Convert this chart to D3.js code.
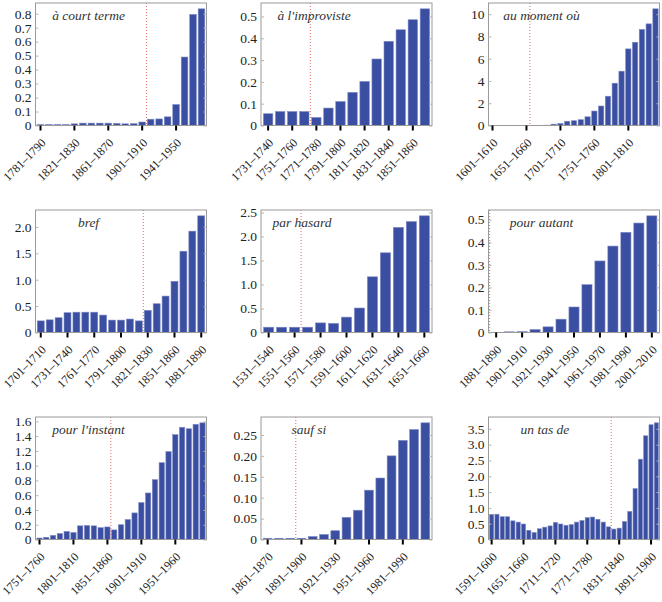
<!DOCTYPE html>
<html><head><meta charset="utf-8">
<script src="https://cdn.jsdelivr.net/npm/d3@7"></script>
<style>
html,body{margin:0;padding:0;background:#fff;}
svg{display:block;}
svg text{font-family:"Liberation Serif","Times New Roman","DejaVu Serif",serif;}
</style></head>
<body>
<svg id="chart" width="662" height="602"></svg>
<script>
// ---------- DATA ----------
const titles = ["à court terme","à l'improviste","au moment où","bref","par hasard","pour autant","pour l'instant","sauf si","un tas de"];

const cats1 = ["1781–1790","1791–1800","1801–1810","1811–1820","1821–1830","1831–1840","1841–1850","1851–1860","1861–1870","1871–1880","1881–1890","1891–1900","1901–1910","1911–1920","1921–1930","1931–1940","1941–1950","1951–1960","1961–1970","1971–1980"];
const vals1 = [0.007,0.007,0.007,0.007,0.012,0.017,0.017,0.017,0.017,0.015,0.012,0.013,0.025,0.045,0.047,0.062,0.15,0.49,0.795,0.835];
const xt1 = ["1781–1790","1821–1830","1861–1870","1901–1910","1941–1950"];
const yt1 = [0,0.1,0.2,0.3,0.4,0.5,0.6,0.7,0.8];
const yl1 = ["0","0.1","0.2","0.3","0.4","0.5","0.6","0.7","0.8"];

const cats2 = ["1731–1740","1741–1750","1751–1760","1761–1770","1771–1780","1781–1790","1791–1800","1801–1810","1811–1820","1821–1830","1831–1840","1841–1850","1851–1860","1861–1870"];
const vals2 = [0.054,0.064,0.064,0.064,0.037,0.08,0.11,0.152,0.202,0.305,0.386,0.439,0.485,0.535];
const xt2 = ["1731–1740","1751–1760","1771–1780","1791–1800","1811–1820","1831–1840","1851–1860"];
const yt2 = [0,0.1,0.2,0.3,0.4,0.5];
const yl2 = ["0","0.1","0.2","0.3","0.4","0.5"];

const cats3 = ["1601–1610","1611–1620","1621–1630","1631–1640","1641–1650","1651–1660","1661–1670","1671–1680","1681–1690","1691–1700","1701–1710","1711–1720","1721–1730","1731–1740","1741–1750","1751–1760","1761–1770","1771–1780","1781–1790","1791–1800","1801–1810","1811–1820","1821–1830","1831–1840","1841–1850"];
const vals3 = [0.01,0.01,0.01,0.01,0.01,0.01,0.01,0.01,0.03,0.12,0.18,0.38,0.43,0.52,0.78,1.3,1.75,2.63,3.8,4.88,6.88,7.48,8.63,9.13,10.48];
const xt3 = ["1601–1610","1651–1660","1701–1710","1751–1760","1801–1810"];
const yt3 = [0,2,4,6,8,10];
const yl3 = ["0","2","4","6","8","10"];

const cats4 = ["1701–1710","1711–1720","1721–1730","1731–1740","1741–1750","1751–1760","1761–1770","1771–1780","1781–1790","1791–1800","1801–1810","1811–1820","1821–1830","1831–1840","1841–1850","1851–1860","1861–1870","1871–1880","1881–1890"];
const vals4 = [0.22,0.24,0.28,0.375,0.385,0.385,0.385,0.33,0.235,0.235,0.255,0.22,0.42,0.545,0.69,0.97,1.54,1.92,2.21];
const xt4 = ["1701–1710","1731–1740","1761–1770","1791–1800","1821–1830","1851–1860","1881–1890"];
const yt4 = [0,0.5,1.0,1.5,2.0];
const yl4 = ["0","0.5","1.0","1.5","2.0"];

const cats5 = ["1531–1540","1541–1550","1551–1560","1561–1570","1571–1580","1581–1590","1591–1600","1601–1610","1611–1620","1621–1630","1631–1640","1641–1650","1651–1660"];
const vals5 = [0.11,0.11,0.11,0.11,0.2,0.19,0.32,0.51,1.16,1.66,2.19,2.31,2.43];
const xt5 = ["1531–1540","1551–1560","1571–1580","1591–1600","1611–1620","1631–1640","1651–1660"];
const yt5 = [0,0.5,1.0,1.5,2.0,2.5];
const yl5 = ["0","0.5","1.0","1.5","2.0","2.5"];

const cats6 = ["1881–1890","1891–1900","1901–1910","1911–1920","1921–1930","1931–1940","1941–1950","1951–1960","1961–1970","1971–1980","1981–1990","1991–2000","2001–2010"];
const vals6 = [0.001,0.003,0.004,0.013,0.025,0.059,0.113,0.212,0.317,0.383,0.444,0.485,0.517];
const xt6 = ["1881–1890","1901–1910","1921–1930","1941–1950","1961–1970","1981–1990","2001–2010"];
const yt6 = [0,0.1,0.2,0.3,0.4,0.5];
const yl6 = ["0","0.1","0.2","0.3","0.4","0.5"];

const cats7 = ["1751–1760","1761–1770","1771–1780","1781–1790","1791–1800","1801–1810","1811–1820","1821–1830","1831–1840","1841–1850","1851–1860","1861–1870","1871–1880","1881–1890","1891–1900","1901–1910","1911–1920","1921–1930","1931–1940","1941–1950","1951–1960","1961–1970","1971–1980","1981–1990","1991–2000"];
const vals7 = [0.02,0.03,0.055,0.08,0.11,0.095,0.185,0.19,0.185,0.16,0.17,0.13,0.2,0.27,0.36,0.5,0.63,0.81,1.04,1.19,1.42,1.52,1.5,1.56,1.58];
const xt7 = ["1751–1760","1801–1810","1851–1860","1901–1910","1951–1960"];
const yt7 = [0,0.2,0.4,0.6,0.8,1.0,1.2,1.4,1.6];
const yl7 = ["0","0.2","0.4","0.6","0.8","1.0","1.2","1.4","1.6"];

const cats8 = ["1861–1870","1871–1880","1881–1890","1891–1900","1901–1910","1911–1920","1921–1930","1931–1940","1941–1950","1951–1960","1961–1970","1971–1980","1981–1990","1991–2000","2001–2010"];
const vals8 = [0.003,0.003,0.003,0.003,0.007,0.012,0.021,0.053,0.07,0.118,0.147,0.2,0.237,0.263,0.279];
const xt8 = ["1861–1870","1891–1900","1921–1930","1951–1960","1981–1990"];
const yt8 = [0,0.05,0.10,0.15,0.20,0.25];
const yl8 = ["0","0.05","0.10","0.15","0.20","0.25"];

const cats9 = ["1591–1600","1601–1610","1611–1620","1621–1630","1631–1640","1641–1650","1651–1660","1661–1670","1671–1680","1681–1690","1691–1700","1701–1710","1711–1720","1721–1730","1731–1740","1741–1750","1751–1760","1761–1770","1771–1780","1781–1790","1791–1800","1801–1810","1811–1820","1821–1830","1831–1840","1841–1850","1851–1860","1861–1870","1871–1880","1881–1890","1891–1900","1901–1910"];
const vals9 = [0.79,0.8,0.72,0.72,0.59,0.55,0.49,0.29,0.22,0.34,0.39,0.43,0.54,0.49,0.45,0.47,0.55,0.6,0.69,0.71,0.64,0.55,0.4,0.33,0.36,0.57,0.89,1.61,2.54,3.28,3.63,3.69];
const xt9 = ["1591–1600","1651–1660","1711–1720","1771–1780","1831–1840","1891–1900"];
const yt9 = [0,0.5,1.0,1.5,2.0,2.5,3.0,3.5];
const yl9 = ["0","0.5","1.0","1.5","2.0","2.5","3.0","3.5"];

// category before which the dotted marker line is drawn
const dividers = ["1911–1920","1771–1780","1661–1670","1821–1830","1561–1570","1881–1890","1861–1870","1891–1900","1821–1830"];

// ---------- LAYOUT ----------
const colLeft = [35.5, 261, 488.5];
const rowTop = [3, 210, 417];
const frameW = 171, frameH = 122.5;
const titleFrac = [0.31,0.31,0.31,0.31,0.24,0.31,0.31,0.28,0.33];

const panels = [
  {c:cats1,v:vals1,xt:xt1,yt:yt1,yl:yl1},
  {c:cats2,v:vals2,xt:xt2,yt:yt2,yl:yl2},
  {c:cats3,v:vals3,xt:xt3,yt:yt3,yl:yl3},
  {c:cats4,v:vals4,xt:xt4,yt:yt4,yl:yl4},
  {c:cats5,v:vals5,xt:xt5,yt:yt5,yl:yl5},
  {c:cats6,v:vals6,xt:xt6,yt:yt6,yl:yl6},
  {c:cats7,v:vals7,xt:xt7,yt:yt7,yl:yl7},
  {c:cats8,v:vals8,xt:xt8,yt:yt8,yl:yl8},
  {c:cats9,v:vals9,xt:xt9,yt:yt9,yl:yl9}
];

const svg = d3.select("#chart");
const serif = '"Liberation Serif","Times New Roman","DejaVu Serif",serif';

panels.forEach((p, i) => {
  const left = colLeft[i % 3], top = rowTop[Math.floor(i / 3)];
  const g = svg.append("g").attr("transform", `translate(${left},${top})`);
  const x = d3.scaleBand().domain(p.c).range([0, frameW]).paddingInner(0.22).paddingOuter(0.2);
  const y = d3.scaleLinear().domain([0, d3.max(p.v) * 1.05]).range([frameH, 0]);
  const data = p.c.map((c, k) => ({c, v: p.v[k]}));

  g.selectAll("rect.bar").data(data).enter().append("rect")
    .attr("class","bar")
    .attr("x", d => x(d.c))
    .attr("width", x.bandwidth())
    .attr("y", d => y(d.v))
    .attr("height", d => frameH - y(d.v))
    .attr("fill", "#3a4ea2")
    .attr("stroke", "#7e8ac4")
    .attr("stroke-width", 0.6);

  const gap = x.step() - x.bandwidth();
  const dx = Math.max(1, x(dividers[i]) - gap / 2);
  g.append("line").attr("x1", dx).attr("x2", dx).attr("y1", 0).attr("y2", frameH)
    .attr("stroke", "#e06a6a").attr("stroke-width", 1).attr("stroke-dasharray", "1,2");

  g.append("rect").attr("x", 0).attr("y", 0).attr("width", frameW).attr("height", frameH)
    .attr("fill", "none").attr("stroke", "#9a9a9a").attr("stroke-width", 1);

  const gl = g.append("g").call(d3.axisRight(y).tickValues(p.yt).tickSize(3).tickFormat(""));
  const gr = g.append("g").attr("transform", `translate(${frameW},0)`)
    .call(d3.axisLeft(y).tickValues(p.yt).tickSize(3).tickFormat(""));
  [gl, gr].forEach(a => { a.select(".domain").remove(); a.selectAll("line").attr("stroke", "#b5b5b5"); });

  const ya = g.append("g").call(d3.axisLeft(y).tickValues(p.yt).tickSize(0).tickPadding(4)
    .tickFormat((d, k) => p.yl[k]));
  ya.attr("font-family", null).attr("font-size", null);
  ya.select(".domain").remove();
  ya.selectAll("text").attr("font-size", 13.5).attr("fill", "#222").style("font-family", serif);

  const xa = g.append("g").attr("transform", `translate(0,${frameH})`)
    .call(d3.axisBottom(x).tickValues(p.xt).tickSize(5).tickFormat(""));
  xa.select(".domain").remove();
  xa.selectAll("line").attr("stroke", "#000").attr("stroke-width", 2);

  g.selectAll("text.xl").data(p.xt).enter().append("text")
    .attr("class","xl")
    .attr("transform", d => `translate(${x(d) + x.bandwidth()/2 + 6},${frameH + 18}) rotate(-45)`)
    .attr("text-anchor", "end")
    .attr("font-size", 12).attr("fill", "#222")
    .style("font-family", serif)
    .text(d => d);

  g.append("text").attr("x", frameW * titleFrac[i]).attr("y", 17)
    .attr("text-anchor", "middle")
    .attr("font-style", "italic").attr("font-size", 13.5).attr("fill", "#333")
    .style("font-family", serif)
    .text(titles[i]);
});
</script>
</body></html>
